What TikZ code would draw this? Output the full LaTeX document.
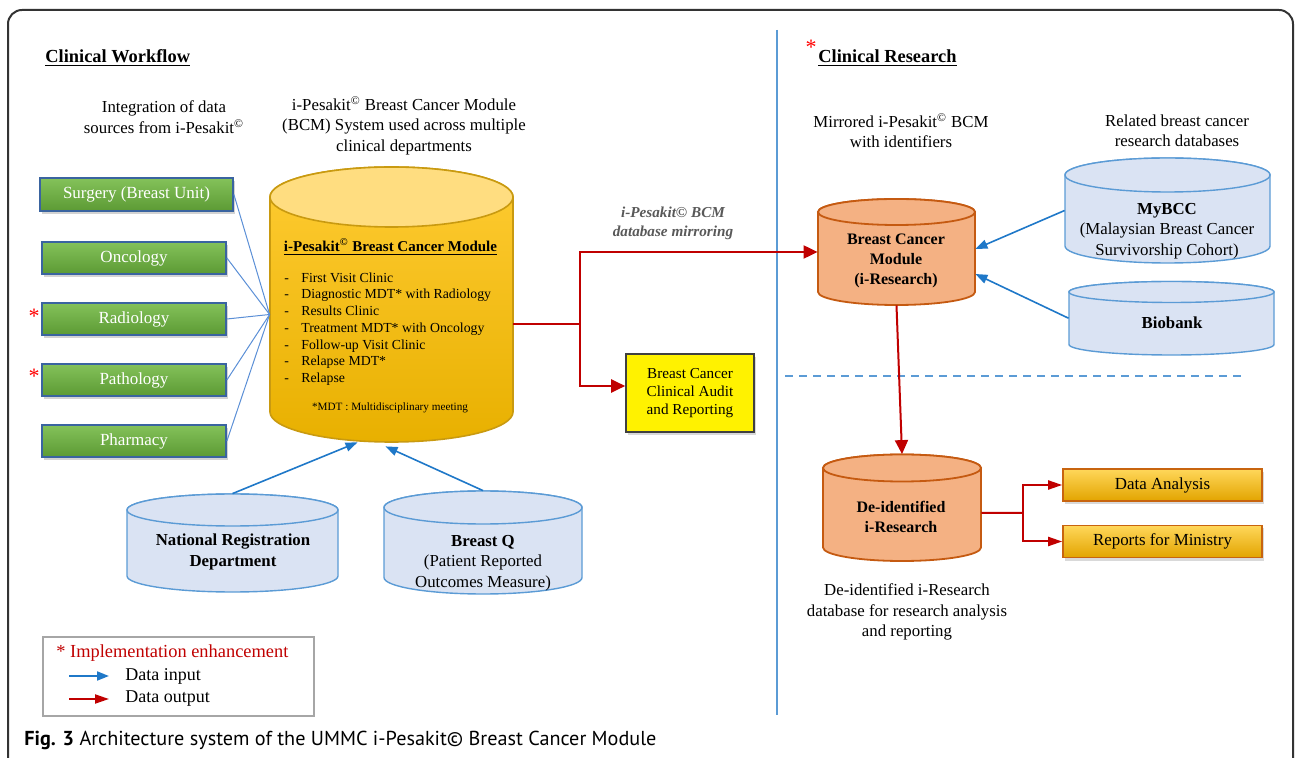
\documentclass[tikz,border=0pt]{standalone}
\usepackage{fontspec}
\setmainfont{Liberation Serif}
\newfontfamily\capfont{PT Sans}
\usetikzlibrary{arrows.meta,shadows}

\definecolor{greenA}{HTML}{84C25A}
\definecolor{greenB}{HTML}{5C9A34}
\definecolor{deptline}{HTML}{3A64A0}
\definecolor{linkblue}{HTML}{5B8FD6}
\definecolor{inblue}{HTML}{1F78C8}
\definecolor{outred}{HTML}{C00000}
\definecolor{sepblue}{HTML}{5B9BD5}
\definecolor{goldA}{HTML}{FFCC33}
\definecolor{goldB}{HTML}{E8B000}
\definecolor{goldlid}{HTML}{FFDD80}
\definecolor{goldline}{HTML}{C99A10}
\definecolor{peach}{HTML}{F4B183}
\definecolor{peachline}{HTML}{C55A11}
\definecolor{paleblue}{HTML}{DAE3F3}
\definecolor{paleline}{HTML}{5B9BD5}
\definecolor{boxA}{HTML}{FFD75A}
\definecolor{boxB}{HTML}{E2A400}
\definecolor{boxline}{HTML}{C8640F}
\definecolor{mirrorgray}{HTML}{595959}

% cylinder: name, body style, lid style, cx, top y, bottom y, rx, ry
\newcommand\mycyl[8]{
    \path[#2] (#4-#7,#5) -- (#4-#7,#6) arc[start angle=180,end angle=0,x radius=#7,y radius=#8]
        -- (#4+#7,#5) arc[start angle=360,end angle=180,x radius=#7,y radius=#8] -- cycle;
    \path[#3] (#4,#5) ellipse[x radius=#7,y radius=#8];
    \node[inner sep=0, minimum width={#7*1pt}, minimum height={(#6-#5+2*#8)*0.5pt}] (#1) at (#4,{(#5+#6)/2}) {};
}
\newcommand\bcmitem[1]{\makebox[8.5pt][l]{-}#1}
\newcommand\pesakit{i-Pesakit\textsuperscript{\copyright}}

\begin{document}
\begin{tikzpicture}[x=0.5pt, y=-0.5pt,
    dept/.style={draw=deptline, line width=0.9pt, top color=greenA, bottom color=greenB,
        minimum width=92pt, minimum height=16pt, inner sep=0, text=white,
        font=\fontsize{8.5}{10}\selectfont,
        drop shadow={opacity=0.35, shadow xshift=1.2pt, shadow yshift=-1.5pt}},
    link/.style={draw=linkblue, line width=0.5pt},
    datain/.style={draw=inblue, line width=0.8pt, >={Triangle[length=6pt,width=4.5pt]}, ->},
    dataout/.style={draw=outred, line width=1pt, >={Triangle[length=7pt,width=6.5pt]}, ->},
    dataoutsm/.style={draw=outred, line width=1pt, >={Triangle[length=7pt,width=4.5pt]}, ->},
    txt/.style={align=center, inner sep=0, font=\fontsize{8.4}{10.2}\selectfont},
    dbtxt/.style={align=center, inner sep=0, font=\fontsize{8.4}{10.2}\selectfont},
    outbox/.style={draw=boxline, line width=0.8pt, top color=boxA, bottom color=boxB,
        minimum width=99.5pt, minimum height=16pt, inner sep=0,
        font=\fontsize{8.45}{10}\selectfont,
        drop shadow={opacity=0.3, shadow xshift=1.2pt, shadow yshift=-1.5pt}},
    star/.style={text=red, inner sep=0, font=\fontsize{11}{11}\selectfont}
    ]
    \useasboundingbox (0,0) rectangle (1295,758);

    % frame
    \draw[black!80, line width=1pt, rounded corners=7pt] (8,760) -- (8,10) -- (1293,10) -- (1293,760);

    % split line and research border
    \draw[sepblue, line width=1pt] (777,30) -- (777,715);
    \draw[sepblue, line width=1pt, dash pattern=on 4pt off 3pt] (785,376) -- (1245,376);

    % headings
    \node[anchor=west, inner sep=0, font=\fontsize{9.2}{11}\selectfont\bfseries] (cwhead) at (45,58) {\underline{Clinical Workflow}};
    \node[star] (rstar) at (811,47) {*};
    \node[anchor=west, inner sep=0, font=\fontsize{9.2}{11}\selectfont\bfseries] (crhead) at (818,58) {\underline{Clinical Research}};

    \node[txt] (srcnote) at (164,117) {Integration of data\\sources from \pesakit};
    \node[txt] (bcmnote) at (404,126) {\pesakit{} Breast Cancer Module\\(BCM) System used across multiple\\clinical departments};
    \node[txt] (mirnote) at (901,131) {Mirrored \pesakit{} BCM\\with identifiers};
    \node[txt] (relnote) at (1177,131) {Related breast cancer\\research databases};
    \node[txt] (deidnote) at (907,612) {De-identified i-Research\\database for research analysis\\and reporting};

    % departments
    \node[dept, minimum width=96.5pt, minimum height=16.5pt] (surgery) at (136.5,194.5) {Surgery (Breast Unit)};
    \node[dept] (oncology) at (134,258) {Oncology};
    \node[dept] (radiology) at (134,319) {Radiology};
    \node[dept] (pathology) at (134,380) {Pathology};
    \node[dept] (pharmacy) at (134,441) {Pharmacy};
    \node[star, anchor=base] (radstar) at (34,324) {*};
    \node[star, anchor=base] (patstar) at (34,384) {*};

    % main module
    \mycyl{ipk}{draw=goldline, line width=0.8pt, top color=goldA, bottom color=goldB}{draw=goldline, line width=0.8pt, fill=goldlid}{391.5}{197}{412}{121.5}{30}
    \node[inner sep=0, font=\fontsize{7.5}{9}\selectfont\bfseries] (ipktitle) at (390.5,247) {\underline{\pesakit{} Breast Cancer Module}};
    \node[anchor=west, align=left, inner sep=0, font=\fontsize{6.9}{8.35}\selectfont] (ipklist) at (284,329)
        {\bcmitem{First Visit Clinic}\\\bcmitem{Diagnostic MDT* with Radiology}\\\bcmitem{Results Clinic}\\
         \bcmitem{Treatment MDT* with Oncology}\\\bcmitem{Follow-up Visit Clinic}\\\bcmitem{Relapse MDT*}\\\bcmitem{Relapse}};
    \node[inner sep=0, font=\fontsize{5.6}{7}\selectfont] (mdtnote) at (390,408) {*MDT : Multidisciplinary meeting};

    \foreach \d in {surgery,oncology,radiology,pathology,pharmacy}
        \draw[link] (\d.east) -- ([yshift=-5pt]ipk.west);

    % outside sources
    \mycyl{nrd}{draw=paleline, line width=0.7pt, fill=paleblue}{draw=paleline, line width=0.7pt, fill=paleblue}{232.5}{510}{576}{105.5}{16}
    \node[dbtxt, font=\fontsize{8.4}{10.2}\selectfont\bfseries] (nrdtxt) at (233,552) {National Registration\\Department};
    \mycyl{bq}{draw=paleline, line width=0.7pt, fill=paleblue}{draw=paleline, line width=0.7pt, fill=paleblue}{483}{507.5}{577.5}{99}{16.5}
    \node[dbtxt] (bqtxt) at (483,563) {\textbf{Breast Q}\\(Patient Reported\\Outcomes Measure)};
    \draw[datain] (nrd.north) -- ([xshift=-17pt]ipk.south);
    \draw[datain] (bq.north) -- ([xshift=-3pt,yshift=-2pt]ipk.south);

    % audit
    \node[draw=black!75, line width=0.8pt, fill=yellow, minimum width=64pt, minimum height=39pt, inner sep=0,
        align=center, font=\fontsize{7.6}{9}\selectfont,
        drop shadow={opacity=0.3, shadow xshift=1.2pt, shadow yshift=-1.5pt}] (audit) at (690,393)
        {Breast Cancer\\Clinical Audit\\and Reporting};

    % research side
    \mycyl{irs}{draw=peachline, line width=0.9pt, fill=peach}{draw=peachline, line width=0.9pt, fill=peach}{896.5}{212}{292}{78.5}{13}
    \node[dbtxt, font=\fontsize{8}{9.8}\selectfont\bfseries] (irstxt) at (896,261) {Breast Cancer\\Module\\(i-Research)};
    \mycyl{mybcc}{draw=paleline, line width=0.7pt, fill=paleblue}{draw=paleline, line width=0.7pt, fill=paleblue}{1167.5}{175}{246}{102.5}{17}
    \node[dbtxt] (mybcctxt) at (1167,231) {\textbf{MyBCC}\\(Malaysian Breast Cancer\\Survivorship Cohort)};
    \mycyl{biobank}{draw=paleline, line width=0.7pt, fill=paleblue}{draw=paleline, line width=0.7pt, fill=paleblue}{1171.5}{292}{344.5}{102.5}{10.5}
    \node[dbtxt, font=\fontsize{8.4}{10.2}\selectfont\bfseries] (biobanktxt) at (1172,323) {Biobank};
    \draw[datain] (mybcc.west) -- ([yshift=1.5pt]irs.east);
    \draw[datain] (biobank.west) -- ([yshift=-11pt]irs.east);

    \mycyl{deid}{draw=peachline, line width=0.9pt, fill=peach}{draw=peachline, line width=0.9pt, fill=peach}{902}{468}{547.5}{79}{13.5}
    \node[dbtxt, font=\fontsize{8}{9.8}\selectfont\bfseries] (deidtxt) at (901,517) {De-identified\\i-Research};

    \node[outbox] (analysis) at (1162.5,485) {Data Analysis};
    \node[outbox] (ministry) at (1162.5,541.5) {Reports for Ministry};

    % outputs
    \coordinate (split) at (580,324);
    \draw[outred, line width=1pt] ([yshift=-9.75pt]ipk.east) -- (split);
    \draw[dataout] (split) |- (irs.west);
    \draw[dataout] (split) |- ([yshift=3.5pt]audit.west);
    \node[align=center, inner sep=0, text=mirrorgray, font=\fontsize{7.6}{9.5}\selectfont\bfseries\itshape] (mirlabel) at (673,223)
        {i-Pesakit\copyright{} BCM\\database mirroring};
    \draw[dataout] (irs.south) -- (deid.north);
    \coordinate (split2) at (1023,513);
    \draw[outred, line width=1pt] ([yshift=-2.5pt]deid.east) -- (split2);
    \draw[dataoutsm] (split2) |- (analysis.west);
    \draw[dataoutsm] (split2) |- (ministry.west);

    % legend
    \draw[black!35, line width=0.6pt] (43,637) rectangle (314,716);
    \node[anchor=west, inner sep=0, text=outred, font=\fontsize{9.2}{11}\selectfont] (legstar) at (56,653) {* Implementation enhancement};
    \node[anchor=west, inner sep=0, font=\fontsize{9}{11}\selectfont] (legin) at (125,676) {Data input};
    \node[anchor=west, inner sep=0, font=\fontsize{9}{11}\selectfont] (legout) at (125,699) {Data output};
    \draw[datain, line width=1pt] ([xshift=-28pt]legin.west) -- ([xshift=-8pt]legin.west);
    \draw[dataoutsm] ([xshift=-28pt]legout.west) -- ([xshift=-8pt]legout.west);

    % caption
    \node[anchor=west, inner sep=0, font=\capfont\fontsize{10.1}{12}\selectfont] (figcap) at (24,740)
        {\textbf{Fig. 3} Architecture system of the UMMC i-Pesakit\copyright{} Breast Cancer Module};
\end{tikzpicture}
\end{document}
